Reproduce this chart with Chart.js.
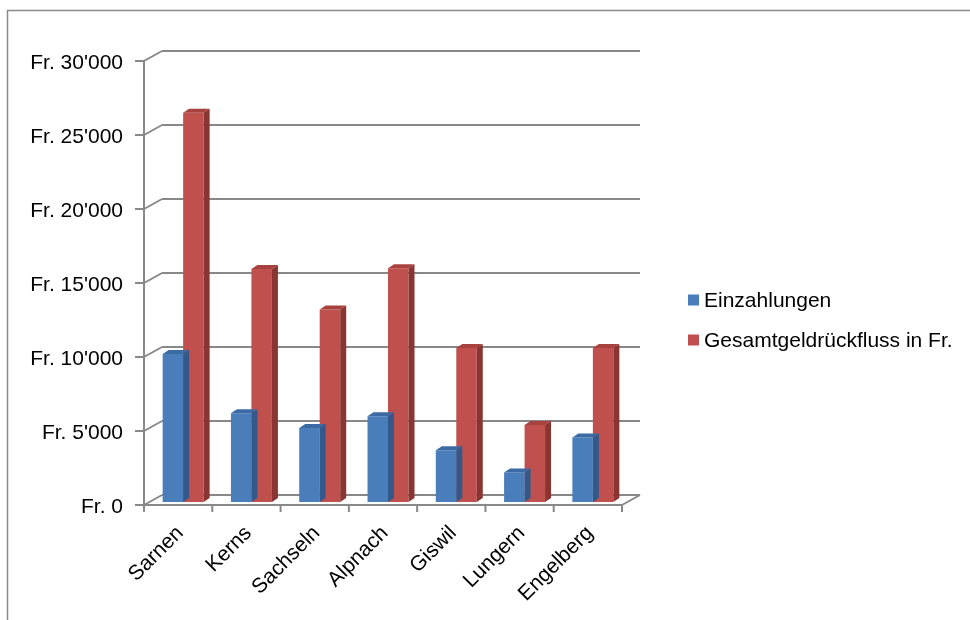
<!DOCTYPE html>
<html>
<head>
<meta charset="utf-8">
<script src="https://cdn.jsdelivr.net/npm/chart.js@4/dist/chart.umd.min.js"></script>
<style>
    html, body { margin: 0; padding: 0; background: #fff; }
    #wrap { width: 970px; height: 620px; position: relative; }
</style>
</head>
<body>
<div id="wrap"><canvas id="bar-chart"></canvas></div>
<script>
const gemeinden = ['Sarnen', 'Kerns', 'Sachseln', 'Alpnach', 'Giswil', 'Lungern', 'Engelberg'];
const einzahlungen = [10000, 6000, 5000, 5800, 3500, 2000, 4350];
const rueckfluss = [26300, 15750, 13000, 15800, 10400, 5200, 10400];
const seriesNames = ['Einzahlungen', 'Gesamtgeldrückfluss in Fr.'];
const yTicks = [0, 5000, 10000, 15000, 20000, 25000, 30000];

const FONT = "'Liberation Sans', Arial, sans-serif";
const GRID = '#888888';
// depth offsets of the 3d frame, relative to the bar plane
const FRONT = { dx: -5, dy: 3 };
const BACK = { dx: 13, dy: -7 };
const DEPTH = { dx: 6, dy: 4 };
const faces = [
    { top: '#3c6aa3', side: '#33598a' },
    { top: '#a8423f', side: '#8a3532' }
];

function formatFr(value) {
    const s = String(Math.round(value)).replace(/\B(?=(\d{3})+(?!\d))/g, "'");
    return 'Fr. ' + s;
}

function line(ctx, x1, y1, x2, y2) {
    ctx.beginPath();
    ctx.moveTo(x1, y1);
    ctx.lineTo(x2, y2);
    ctx.stroke();
}

const frame3d = {
    id: 'frame3d',
    beforeDraw(chart) {
        const ctx = chart.ctx;
        ctx.save();
        ctx.strokeStyle = '#8a8a8a';
        ctx.lineWidth = 1.5;
        ctx.strokeRect(7.5, 10.5, 1100, 1100);
        ctx.restore();
    },
    beforeDatasetsDraw(chart) {
        const ctx = chart.ctx;
        const { left, right } = chart.chartArea;
        const y = chart.scales.y;
        const x = chart.scales.x;
        ctx.save();
        ctx.strokeStyle = GRID;
        ctx.lineWidth = 2;
        yTicks.forEach(v => {
            const py = y.getPixelForValue(v);
            line(ctx, left + FRONT.dx, py + FRONT.dy, left + BACK.dx, py + BACK.dy);
            line(ctx, left + BACK.dx, py + BACK.dy, right + BACK.dx, py + BACK.dy);
            line(ctx, left + FRONT.dx - 9, py + FRONT.dy, left + FRONT.dx, py + FRONT.dy);
        });
        const top = y.getPixelForValue(yTicks[yTicks.length - 1]);
        const base = y.getPixelForValue(0);
        // front axis and floor
        line(ctx, left + FRONT.dx, top + FRONT.dy, left + FRONT.dx, base + FRONT.dy);
        line(ctx, left + FRONT.dx, base + FRONT.dy, right + FRONT.dx, base + FRONT.dy);
        line(ctx, right + FRONT.dx, base + FRONT.dy, right + BACK.dx, base + BACK.dy);
        const step = x.getPixelForValue(1) - x.getPixelForValue(0);
        for (let i = 0; i <= gemeinden.length; i++) {
            const px = x.getPixelForValue(0) - step / 2 + i * step + FRONT.dx;
            line(ctx, px, base + FRONT.dy, px, base + FRONT.dy + 7);
        }
        ctx.restore();
    },
    afterDatasetDraw(chart, args) {
        const ctx = chart.ctx;
        const f = faces[args.index];
        ctx.save();
        args.meta.data.forEach(bar => {
            const { x, y, base, width } = bar.getProps(['x', 'y', 'base', 'width'], true);
            const l = x - width / 2, r = x + width / 2;
            ctx.fillStyle = f.top;
            ctx.beginPath();
            ctx.moveTo(l, y);
            ctx.lineTo(l + DEPTH.dx, y - DEPTH.dy);
            ctx.lineTo(r + DEPTH.dx, y - DEPTH.dy);
            ctx.lineTo(r, y);
            ctx.closePath();
            ctx.fill();
            ctx.fillStyle = f.side;
            ctx.beginPath();
            ctx.moveTo(r, y);
            ctx.lineTo(r + DEPTH.dx, y - DEPTH.dy);
            ctx.lineTo(r + DEPTH.dx, base - DEPTH.dy);
            ctx.lineTo(r, base);
            ctx.closePath();
            ctx.fill();
        });
        ctx.restore();
    },
    afterDraw(chart) {
        const ctx = chart.ctx;
        ctx.save();
        ctx.font = '21px ' + FONT;
        ctx.textBaseline = 'middle';
        ctx.fillStyle = '#000';
        chart.data.datasets.forEach((ds, i) => {
            const yy = 300 + i * 40;
            ctx.fillStyle = ds.backgroundColor;
            ctx.fillRect(688, yy - 5.5, 11, 11);
            ctx.fillStyle = '#000';
            ctx.fillText(ds.label, 704, yy + 1);
        });
        ctx.restore();
    }
};

function initChart() {
    const ctx = document.getElementById('bar-chart').getContext('2d');
    return new Chart(ctx, {
        type: 'bar',
        data: {
            labels: gemeinden,
            datasets: [{
                label: seriesNames[0],
                data: einzahlungen,
                backgroundColor: '#4a7ebb',
                categoryPercentage: 0.6,
                barPercentage: 1.0
            }, {
                label: seriesNames[1],
                data: rueckfluss,
                backgroundColor: '#c0504d',
                categoryPercentage: 0.6,
                barPercentage: 1.0
            }]
        },
        options: {
            responsive: false,
            animation: false,
            layout: {
                padding: { top: 58, right: 343, bottom: 18, left: 0 }
            },
            scales: {
                x: {
                    grid: { display: false, drawTicks: false },
                    border: { display: false },
                    ticks: {
                        color: '#000',
                        font: { family: FONT, size: 21 },
                        maxRotation: 45,
                        minRotation: 45,
                        padding: 19,
                        labelOffset: -3
                    },
                    afterFit(scale) { scale.height = 100; }
                },
                y: {
                    min: 0,
                    max: 30000,
                    grid: { display: false, drawTicks: false },
                    border: { display: false },
                    ticks: {
                        stepSize: 5000,
                        color: '#000',
                        font: { family: FONT, size: 21 },
                        padding: 26,
                        labelOffset: 5,
                        callback: v => formatFr(v)
                    },
                    afterFit(scale) { scale.width = 149; }
                }
            },
            plugins: {
                legend: { display: false },
                tooltip: { enabled: false }
            }
        },
        plugins: [frame3d]
    });
}

document.addEventListener('DOMContentLoaded', function() {
    const c = document.getElementById('bar-chart');
    c.width = 970;
    c.height = 620;
    initChart();
});
</script>
</body>
</html>
